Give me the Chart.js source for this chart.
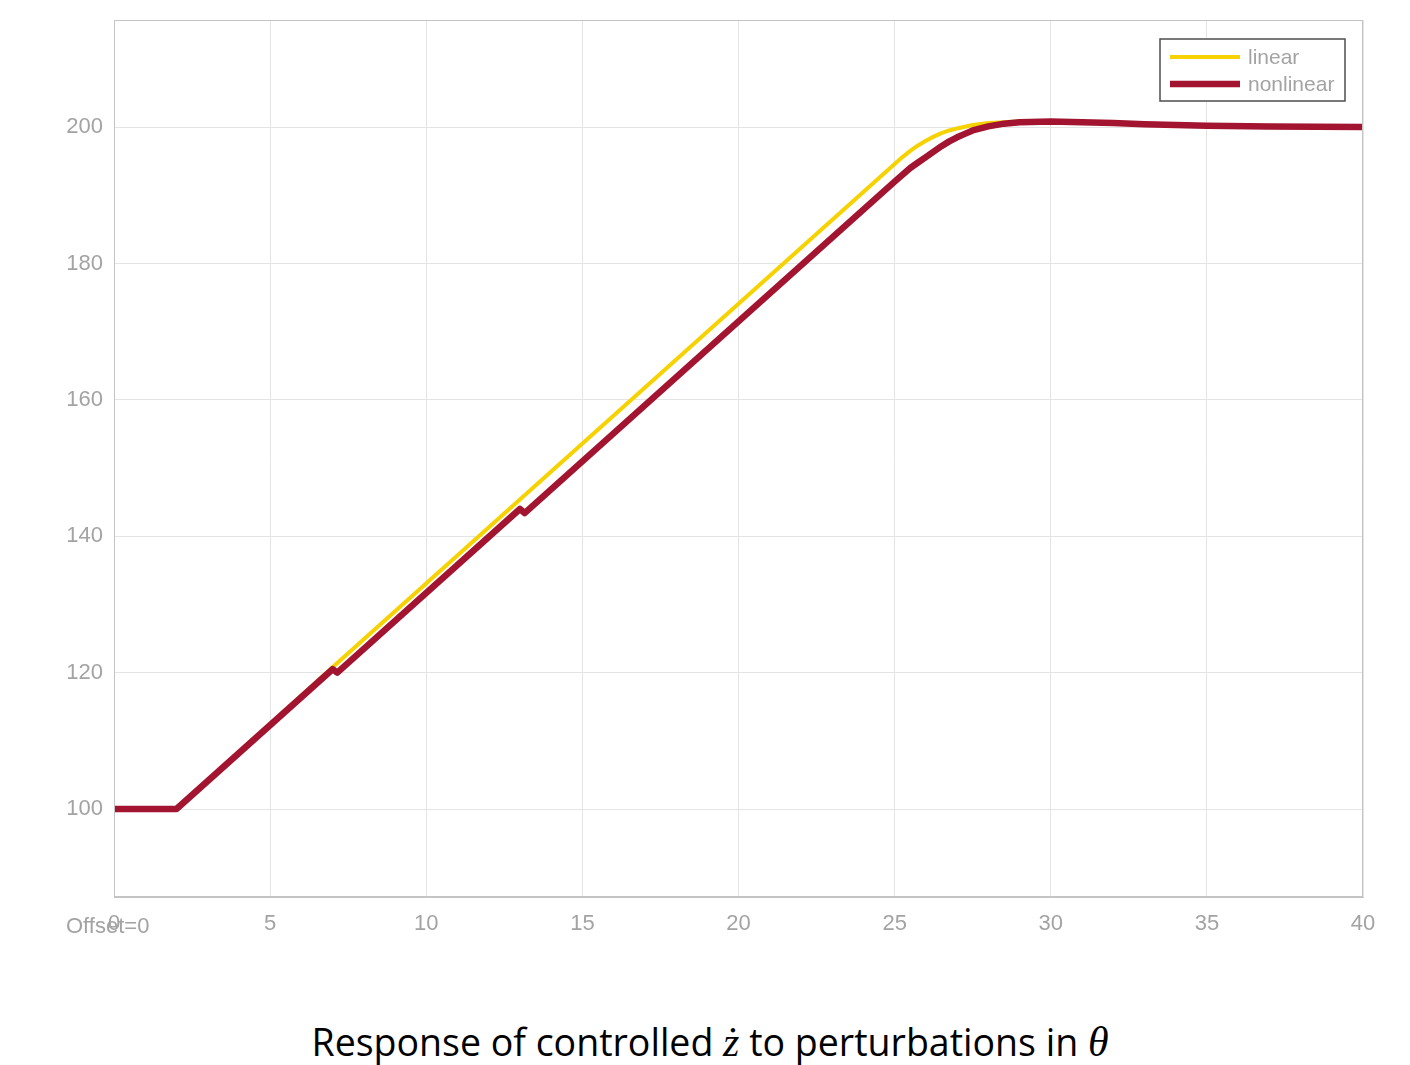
<!DOCTYPE html>
<html>
<head>
<meta charset="utf-8">
<script src="https://cdn.jsdelivr.net/npm/chart.js@4/dist/chart.umd.min.js"></script>
<style>
  body { margin: 0; background: #fff; width: 1410px; height: 1065px; overflow: hidden; position: relative; }
  #plot { position: absolute; left: 0; top: 0; }
  #caption { position: absolute; left: 0; top: 1016px; width: 1420px; text-align: center;
             font-family: 'Open Sans', sans-serif; font-size: 37.5px; color: #000; white-space: nowrap; }
  #caption .m { font-family: 'Liberation Serif', serif; font-style: italic; font-size: 42px; }
</style>
</head>
<body>
<canvas id="plot" width="1410" height="960"></canvas>
<div id="caption">Response of controlled <span class="m">ż</span> to perturbations in <span class="m">θ</span></div>
<script>
const xTicks = [0, 5, 10, 15, 20, 25, 30, 35, 40];
const yTicks = [100, 120, 140, 160, 180, 200];

const linearX = [0, 2, 7, 13, 19, 25, 25.25, 25.5, 25.75, 26, 26.25, 26.5, 26.75, 27, 27.5, 28, 28.5, 29, 30, 31, 32, 33, 34, 35, 37, 40];
const linearY = [100, 100, 120.8, 145.4, 170.0, 194.6, 195.6, 196.5, 197.3, 198.0, 198.6, 199.1, 199.5, 199.8, 200.3, 200.6, 200.7, 200.8, 200.8, 200.7, 200.6, 200.4, 200.3, 200.2, 200.1, 200.0];

const nonlinearX = [0, 2, 7, 7.15, 13, 13.15, 19, 25, 25.5, 25.75, 26, 26.25, 26.5, 26.75, 27, 27.25, 27.5, 27.75, 28, 28.5, 29, 30, 31, 32, 33, 34, 35, 37, 40];
const nonlinearY = [100, 100, 120.5, 120.0, 144.0, 143.4, 167.4, 192.0, 194.0, 194.8, 195.6, 196.4, 197.2, 197.9, 198.5, 199.0, 199.5, 199.8, 200.1, 200.5, 200.7, 200.8, 200.7, 200.6, 200.4, 200.3, 200.2, 200.1, 200.0];

const toPoints = (xs, ys) => xs.map((x, i) => ({ x: x, y: ys[i] }));

const tickColor = '#a3a3a3';
const tickFont = { family: 'Liberation Sans', size: 22 };

// box round the plot area, like matlab
const boxPlugin = {
  id: 'box',
  afterDatasetsDraw(chart) {
    const { ctx, chartArea: a } = chart;
    ctx.save();
    ctx.strokeStyle = '#c4c4c4';
    ctx.lineWidth = 1;
    ctx.strokeRect(a.left + 0.5, a.top + 0.5, a.right - a.left - 1, a.bottom - a.top - 1);
    ctx.restore();
  }
};

const offsetPlugin = {
  id: 'offsetLabel',
  afterDraw(chart) {
    const { ctx, chartArea: a } = chart;
    ctx.save();
    ctx.fillStyle = tickColor;
    ctx.font = '22px "Liberation Sans"';
    ctx.textAlign = 'left';
    ctx.textBaseline = 'middle';
    ctx.fillText('Offset=0', a.left - 48, a.bottom + 30);
    ctx.restore();
  }
};

const legendPlugin = {
  id: 'boxLegend',
  afterDraw(chart) {
    const { ctx, chartArea: a } = chart;
    const w = 185, h = 62;
    const left = a.right - 18 - w, top = a.top + 19;
    ctx.save();
    ctx.fillStyle = '#fff';
    ctx.fillRect(left, top, w, h);
    ctx.strokeStyle = '#4d4d4d';
    ctx.lineWidth = 1.5;
    ctx.strokeRect(left, top, w, h);
    const items = [chart.data.datasets[1], chart.data.datasets[0]];
    items.forEach((ds, i) => {
      const y = top + 18 + i * 27;
      ctx.strokeStyle = ds.borderColor;
      ctx.lineWidth = ds.borderWidth;
      ctx.beginPath();
      ctx.moveTo(left + 10, y);
      ctx.lineTo(left + 80, y);
      ctx.stroke();
      ctx.fillStyle = tickColor;
      ctx.font = '21px "Liberation Sans"';
      ctx.textBaseline = 'middle';
      ctx.fillText(ds.label, left + 88, y + 1);
    });
    ctx.restore();
  }
};

new Chart(document.getElementById('plot'), {
  type: 'line',
  data: {
    datasets: [
      {
        label: 'nonlinear',
        data: toPoints(nonlinearX, nonlinearY),
        borderColor: '#a2142f',
        borderWidth: 6.5,
        pointRadius: 0,
        tension: 0,
        borderJoinStyle: 'round',
        fill: false
      },
      {
        label: 'linear',
        data: toPoints(linearX, linearY),
        borderColor: '#f6d200',
        borderWidth: 4,
        pointRadius: 0,
        tension: 0,
        borderJoinStyle: 'round',
        fill: false
      }
    ]
  },
  options: {
    responsive: false,
    animation: false,
    devicePixelRatio: 1,
    layout: { padding: { top: 20, right: 47, left: 0, bottom: 0 } },
    plugins: { legend: { display: false }, tooltip: { enabled: false } },
    scales: {
      x: {
        type: 'linear',
        min: 0,
        max: 40,
        afterBuildTicks: axis => { axis.ticks = xTicks.map(v => ({ value: v })); },
        afterFit: axis => { axis.height = 63; },
        grid: { color: '#e4e4e4', drawTicks: false },
        border: { color: '#c4c4c4' },
        ticks: { color: tickColor, font: tickFont, padding: 14, maxRotation: 0 }
      },
      y: {
        type: 'linear',
        min: 87.1,
        max: 215.7,
        afterBuildTicks: axis => { axis.ticks = yTicks.map(v => ({ value: v })); },
        afterFit: axis => { axis.width = 114; axis.paddingTop = 0; axis.paddingBottom = 0; },
        grid: { color: '#e4e4e4', drawTicks: false },
        border: { color: '#c4c4c4' },
        ticks: { color: tickColor, font: tickFont, padding: 11 }
      }
    }
  },
  plugins: [boxPlugin, offsetPlugin, legendPlugin]
});
</script>
</body>
</html>
